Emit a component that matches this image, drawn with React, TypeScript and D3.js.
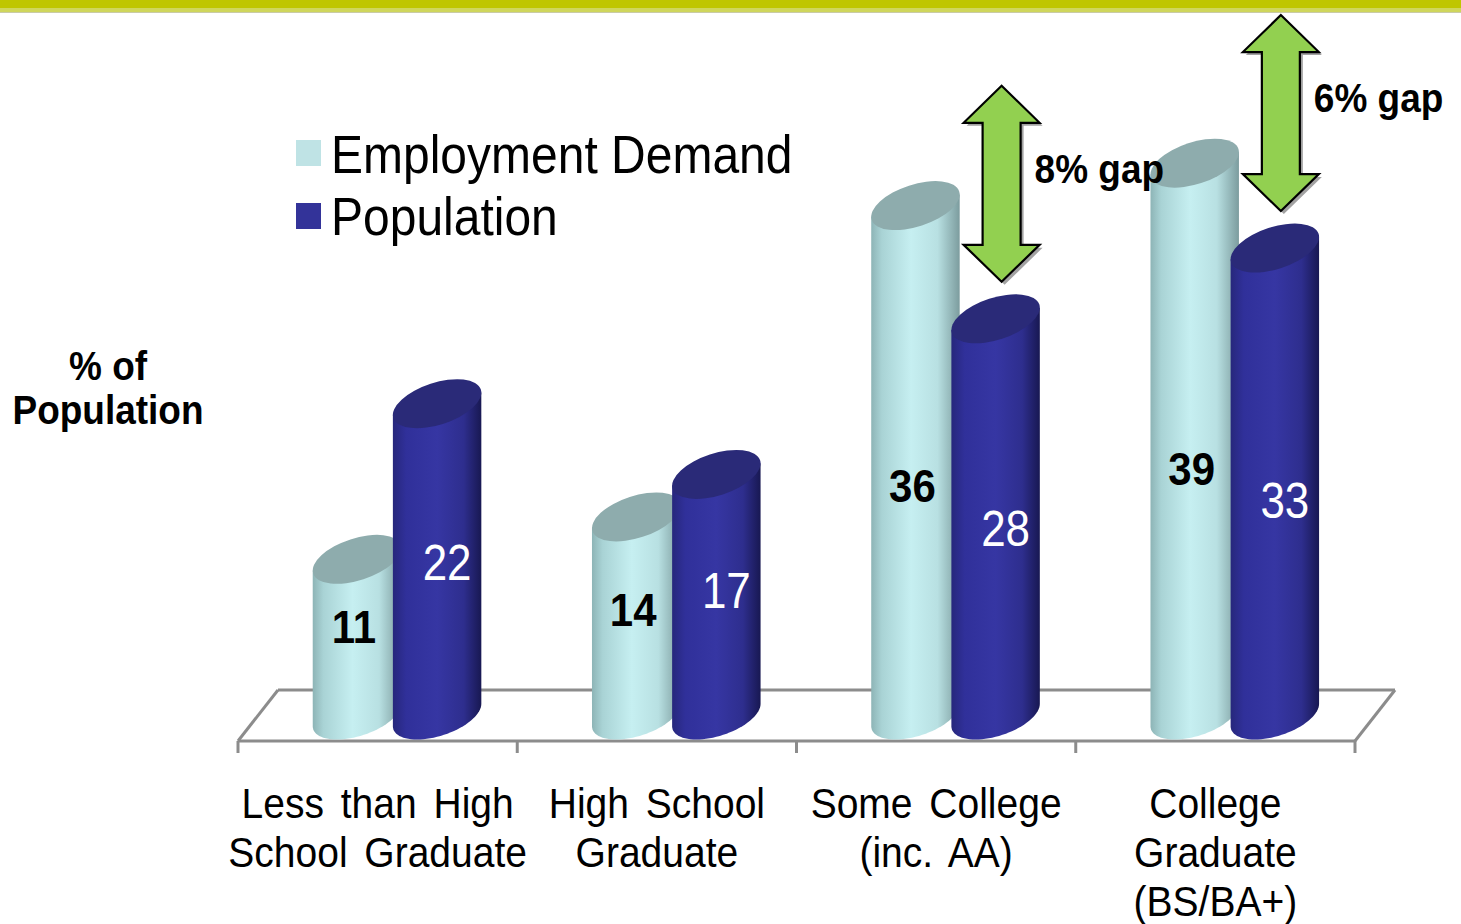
import React from "react";
import * as d3 from "d3";

const categories = [
  ["Less than High", "School Graduate"],
  ["High School", "Graduate"],
  ["Some College", "(inc. AA)"],
  ["College", "Graduate", "(BS/BA+)"],
];
const employmentDemand = [11, 14, 36, 39];
const population = [22, 17, 28, 33];
const seriesNames = ["Employment Demand", "Population"];
const gaps = [
  { cat: 2, label: "8% gap" },
  { cat: 3, label: "6% gap" },
];

const FONT = "'Liberation Sans', Arial, Helvetica, sans-serif";
const W = 1461;
const H = 924;

const TH = (-18 * Math.PI) / 180;
const RX = 46;
const RY = 21;

function ellPt(cx: number, cy: number, t: number): [number, number] {
  return [
    cx + RX * Math.cos(t) * Math.cos(TH) - RY * Math.sin(t) * Math.sin(TH),
    cy + RX * Math.cos(t) * Math.sin(TH) + RY * Math.sin(t) * Math.cos(TH),
  ];
}

function bodyPath(cx: number, yTop: number, yBase: number) {
  const t0 = Math.atan((-RY * Math.sin(TH)) / (RX * Math.cos(TH)));
  const tl = ellPt(cx, yTop, t0 + Math.PI);
  const tr = ellPt(cx, yTop, t0);
  const pts: [number, number][] = [tl];
  const n = 40;
  for (let i = 0; i <= n; i++) {
    const t = t0 + Math.PI - (Math.PI * i) / n;
    pts.push(ellPt(cx, yBase, t));
  }
  pts.push(tr);
  return "M" + pts.map((p) => p[0].toFixed(2) + "," + p[1].toFixed(2)).join("L") + "Z";
}

function T(props: {
  x: number;
  y: number;
  size: number;
  weight?: string;
  fill?: string;
  anchor?: string;
  sy?: number;
  ws?: number;
  children: React.ReactNode;
}) {
  const { x, y, size, weight = "normal", fill = "#000", anchor = "start", sy = 1.12, ws = 0 } = props;
  return (
    <text
      transform={`translate(${x},${y}) scale(1,${sy})`}
      fontFamily={FONT}
      fontSize={size}
      fontWeight={weight}
      fill={fill}
      textAnchor={anchor}
      wordSpacing={ws}
    >
      {props.children}
    </text>
  );
}

function Arrow({ cx, yBottom, len }: { cx: number; yBottom: number; len: number }) {
  const hw = 38;
  const sw = 19;
  const hl = 37;
  const yt = yBottom - len;
  const pts: [number, number][] = [
    [cx, yt],
    [cx + hw, yt + hl],
    [cx + sw, yt + hl],
    [cx + sw, yBottom - hl],
    [cx + hw, yBottom - hl],
    [cx, yBottom],
    [cx - hw, yBottom - hl],
    [cx - sw, yBottom - hl],
    [cx - sw, yt + hl],
    [cx - hw, yt + hl],
  ];
  const d = "M" + pts.map((p) => p.join(",")).join("L") + "Z";
  return (
    <g>
      <path d={d} transform="translate(3,3)" fill="#7a7a7a" opacity={0.7} />
      <path d={d} fill="#92d050" stroke="#000" strokeWidth={2.2} strokeLinejoin="miter" />
    </g>
  );
}

export default function App() {
  const x = d3
    .scaleBand<number>()
    .domain(categories.map((_, i) => i))
    .range([238, 1355])
    .padding(0);
  const y = d3.scaleLinear().domain([0, 40]).range([715, 715 - 40 * 14.15]);
  const bw = x.bandwidth();
  const lightCx = (i: number) => (x(i) as number) + bw * 0.426;
  const darkCx = (i: number) => (x(i) as number) + bw * 0.713;
  const labelY = (v: number) => y(0.4 * v + 2);

  const floorFront = 741;
  const floorBack = 690;
  const depth = 40;
  const x0 = x.range()[0];
  const x1 = x.range()[1];

  return (
    <svg
      width={W}
      height={H}
      viewBox={`0 0 ${W} ${H}`}
      style={{ position: "absolute", left: 0, top: 0, background: "#fff" }}
    >
      <defs>
        <linearGradient id="gLight" x1="0" x2="1" y1="0" y2="0">
          <stop offset="0" stopColor="#8db4b6" />
          <stop offset="0.12" stopColor="#a9d3d5" />
          <stop offset="0.45" stopColor="#c6eff1" />
          <stop offset="0.75" stopColor="#b8e0e2" />
          <stop offset="1" stopColor="#7c9c9e" />
        </linearGradient>
        <linearGradient id="gDark" x1="0" x2="1" y1="0" y2="0">
          <stop offset="0" stopColor="#27277c" />
          <stop offset="0.15" stopColor="#30309a" />
          <stop offset="0.5" stopColor="#3636a3" />
          <stop offset="0.8" stopColor="#2e2e8e" />
          <stop offset="1" stopColor="#181852" />
        </linearGradient>
      </defs>
      <rect x={0} y={0} width={W} height={H} fill="#fff" />
      {/* top band */}
      <rect x={0} y={0} width={W} height={8} fill="#bfc600" />
      <rect x={0} y={8} width={W} height={4} fill="#cfd65c" />
      <line x1={0} x2={W} y1={12.5} y2={12.5} stroke="#c9cba6" strokeWidth={1} />

      {/* floor */}
      <g stroke="#8c8c8c" strokeWidth={3} fill="none">
        <line x1={x0 + depth} x2={x1 + depth} y1={floorBack} y2={floorBack} />
        <line x1={x0} x2={x1} y1={floorFront} y2={floorFront} />
        <line x1={x0} x2={x0 + depth} y1={floorFront} y2={floorBack} />
        <line x1={x1} x2={x1 + depth} y1={floorFront} y2={floorBack} />
        {d3.range(categories.length + 1).map((i) => {
          const tx = x0 + i * bw;
          return <line key={i} x1={tx} x2={tx} y1={floorFront} y2={floorFront + 12} />;
        })}
      </g>

      {/* cylinders */}
      {categories.map((_, i) => {
        const lc = lightCx(i);
        const dc = darkCx(i);
        const ly = y(employmentDemand[i]);
        const dy = y(population[i]);
        return (
          <g key={i}>
            <path d={bodyPath(lc, ly, y(0))} fill="url(#gLight)" />
            <ellipse cx={lc} cy={ly} rx={RX} ry={RY} transform={`rotate(-18 ${lc} ${ly})`} fill="#8eacad" />
            <path d={bodyPath(dc, dy, y(0))} fill="url(#gDark)" />
            <ellipse cx={dc} cy={dy} rx={RX} ry={RY} transform={`rotate(-18 ${dc} ${dy})`} fill="#2a2a78" />
          </g>
        );
      })}

      {/* value labels */}
      {categories.map((_, i) => (
        <g key={"l" + i}>
          <T x={lightCx(i) - 3} y={labelY(employmentDemand[i]) + 19} size={42} weight="bold" anchor="middle">
            {employmentDemand[i]}
          </T>
          <T x={darkCx(i) + 10} y={labelY(population[i]) + 18} size={44} fill="#fff" anchor="middle">
            {population[i]}
          </T>
        </g>
      ))}

      {/* category labels */}
      {categories.map((lines, i) => (
        <g key={"c" + i}>
          {lines.map((ln, j) => (
            <T key={j} x={(x(i) as number) + bw / 2} y={818 + j * 49} size={39} anchor="middle" sy={1.1} ws={6}>
              {ln}
            </T>
          ))}
        </g>
      ))}

      {/* legend */}
      <rect x={296} y={140} width={25} height={26} fill="#bfe3e5" />
      <rect x={296} y={203} width={25} height={26} fill="#333399" />
      <T x={331} y={173} size={48}>
        {seriesNames[0]}
      </T>
      <T x={331} y={235} size={48}>
        {seriesNames[1]}
      </T>

      {/* axis title */}
      <T x={108} y={380} size={37} weight="bold" anchor="middle">
        % of
      </T>
      <T x={108} y={424} size={37} weight="bold" anchor="middle">
        Population
      </T>

      {/* gap arrows */}
      {gaps.map((g, k) => {
        const cx = darkCx(g.cat) + 6;
        const yb = y(population[g.cat]) - 37;
        const len = 196;
        return (
          <g key={"g" + k}>
            <Arrow cx={cx} yBottom={yb} len={len} />
            <T x={cx + 33} y={yb - len + 97} size={37} weight="bold" sy={1.1}>
              {g.label}
            </T>
          </g>
        );
      })}
    </svg>
  );
}
